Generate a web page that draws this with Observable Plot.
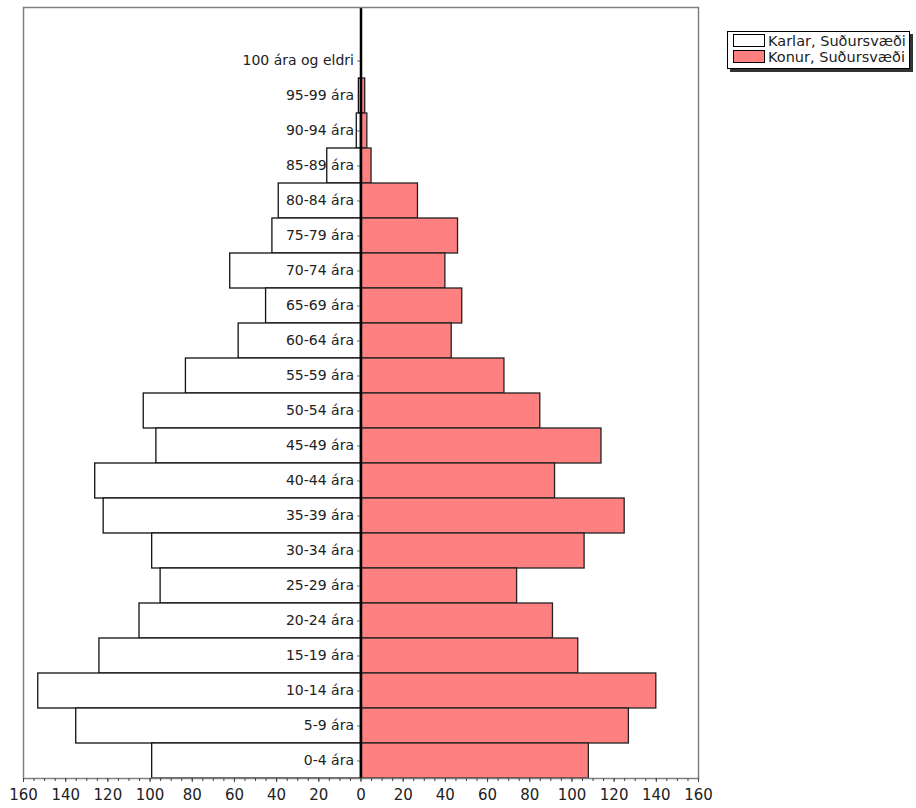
<!DOCTYPE html>
<html>
<head>
<meta charset="utf-8">
<script src="https://cdn.jsdelivr.net/npm/d3@7"></script>
<script src="https://cdn.jsdelivr.net/npm/@observablehq/plot@0.6"></script>
<style>
  body { margin: 0; background: #fff; }
  #wrap { position: relative; width: 916px; height: 808px; overflow: hidden; }
  #legend {
    position: absolute; left: 727px; top: 31px; width: 181px; height: 36px;
    border: 1px solid #000; background: #fff; box-shadow: 3px 3px 0 #333;
    font-family: "DejaVu Sans", sans-serif; font-size: 14.5px; color: #222;
  }
  .row { position: absolute; left: 5px; height: 13px; display: flex; align-items: center; white-space: nowrap; }
  .sw { width: 30px; height: 11px; border: 1px solid #000; margin-right: 3px; box-sizing: content-box; }
</style>
</head>
<body>
<div id="wrap"></div>
<script>
// Age groups, top to bottom
const ageGroups = ["100 ára og eldri","95-99 ára","90-94 ára","85-89 ára","80-84 ára","75-79 ára","70-74 ára","65-69 ára","60-64 ára","55-59 ára","50-54 ára","45-49 ára","40-44 ára","35-39 ára","30-34 ára","25-29 ára","20-24 ára","15-19 ára","10-14 ára","5-9 ára","0-4 ára"];
const karlar = [0, 1, 2, 16, 39, 42, 62, 45, 58, 83, 103, 97, 126, 122, 99, 95, 105, 124, 153, 135, 99];
const konur  = [0, 2, 3, 5, 27, 46, 40, 48, 43, 68, 85, 114, 92, 125, 106, 74, 91, 103, 140, 127, 108];
const seriesNames = ["Karlar, Suðursvæði", "Konur, Suðursvæði"];
const seriesColors = ["#ffffff", "#ff8080"];
const xTicks = [-160,-140,-120,-100,-80,-60,-40,-20,0,20,40,60,80,100,120,140,160];
const xMinorTicks = d3.range(-160, 161, 5);

const rows = ageGroups.map((age, i) => ({age, karlar: karlar[i], konur: konur[i]}));

const chart = Plot.plot({
  width: 916,
  height: 808,
  marginLeft: 23,
  marginRight: 218,
  marginTop: 7,
  marginBottom: 30,
  style: { fontFamily: "DejaVu Sans, sans-serif", fontSize: "14px", color: "#222", background: "#fff" },
  x: { domain: [-160, 160], label: null },
  y: { domain: ageGroups, paddingInner: 0, paddingOuter: 0.5, align: 1, axis: null, label: null },
  marks: [
    Plot.barX(rows, { x1: 0, x2: d => -d.karlar, y: "age", fill: seriesColors[0], stroke: "#111", strokeWidth: 1.3 }),
    Plot.barX(rows, { x1: 0, x2: "konur", y: "age", fill: seriesColors[1], stroke: "#222", strokeWidth: 1.3 }),
    Plot.ruleY(rows, { y: "age", x1: 0, x2: -1.6, stroke: "#666", strokeWidth: 1 }),
    Plot.text(rows, { x: 0, y: "age", text: "age", textAnchor: "end", dx: -7, fontSize: 14, fill: "#222" }),
    Plot.ruleX([0], { stroke: "#000", strokeWidth: 2.5 }),
    Plot.frame({ stroke: "#808080", strokeWidth: 1.5 }),
    Plot.axisX({ ticks: xMinorTicks, tickSize: 3, tickFormat: () => "", stroke: "#444", label: null }),
    Plot.axisX({ ticks: xTicks, tickSize: 4, tickPadding: 7, tickFormat: d => Math.abs(d), fontSize: 15, stroke: "#444", fill: "#222", label: null })
  ]
});

const wrap = document.getElementById("wrap");
wrap.appendChild(chart);

const legend = document.createElement("div");
legend.id = "legend";
seriesNames.forEach((name, i) => {
  const row = document.createElement("div");
  row.className = "row";
  row.style.top = (i === 0 ? 2 : 18) + "px";
  const sw = document.createElement("span");
  sw.className = "sw";
  sw.style.background = seriesColors[i];
  const t = document.createElement("span");
  t.textContent = name;
  row.appendChild(sw);
  row.appendChild(t);
  legend.appendChild(row);
});
wrap.appendChild(legend);
</script>
</body>
</html>
